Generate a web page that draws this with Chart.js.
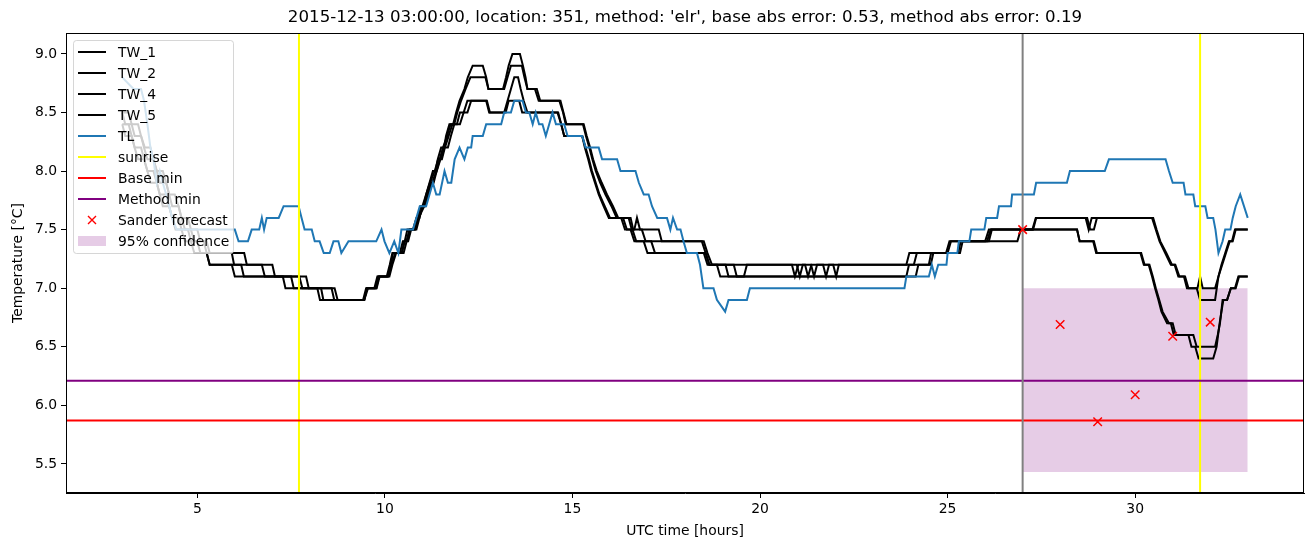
<!DOCTYPE html>
<html>
<head>
<meta charset="utf-8">
<script src="https://cdn.jsdelivr.net/npm/chart.js@4.4.1/dist/chart.umd.min.js"></script>
<style>
  body { margin: 0; background: #fff; }
</style>
</head>
<body>
<canvas id="chart" width="1315" height="547"></canvas>
<script>
// [hour, temperature] vertices
const tw1 = [[3.0,8.5],[3.17,8.5],[3.25,8.4],[3.42,8.4],[3.5,8.3],[3.6,8.2],[3.75,8.2],[3.83,8.1],[3.92,8.0],[4.08,8.0],[4.17,7.9],[4.25,7.8],[4.4,7.8],[4.5,7.7],[4.58,7.6],[4.75,7.6],[4.83,7.5],[5.0,7.5],[5.08,7.4],[5.25,7.4],[5.33,7.3],[6.25,7.3],[6.32,7.2],[7.0,7.2],[7.07,7.1],[7.9,7.1],[7.97,7.0],[8.66,7.0],[8.74,6.9],[9.45,6.9],[9.52,7.0],[9.75,7.0],[9.82,7.1],[10.05,7.1],[10.13,7.2],[10.2,7.3],[10.4,7.3],[10.48,7.4],[10.58,7.4],[10.66,7.5],[10.8,7.5],[10.88,7.6],[10.95,7.7],[11.03,7.7],[11.1,7.8],[11.19,7.9],[11.28,8.0],[11.35,8.0],[11.41,8.1],[11.5,8.2],[11.58,8.2],[11.63,8.3],[11.72,8.4],[11.82,8.4],[11.9,8.5],[11.99,8.6],[12.12,8.7],[12.21,8.8],[12.34,8.9],[12.61,8.9],[12.7,8.8],[12.76,8.7],[13.15,8.7],[13.23,8.8],[13.3,8.9],[13.4,9.0],[13.6,9.0],[13.68,8.9],[13.75,8.8],[13.8,8.7],[14.0,8.7],[14.1,8.6],[14.65,8.6],[14.75,8.5],[14.82,8.4],[15.3,8.4],[15.38,8.3],[15.47,8.2],[15.55,8.1],[15.65,8.0],[15.78,7.9],[15.92,7.8],[16.08,7.7],[16.22,7.6],[16.5,7.6],[16.58,7.5],[16.65,7.5],[16.72,7.6],[16.8,7.5],[17.3,7.5],[17.38,7.4],[18.45,7.4],[18.55,7.3],[18.65,7.2],[20.98,7.2],[21.06,7.1],[21.14,7.2],[21.36,7.2],[21.44,7.1],[21.52,7.2],[23.9,7.2],[23.98,7.3],[24.96,7.3],[25.05,7.4],[26.0,7.4],[26.1,7.5],[27.26,7.5],[27.35,7.6],[28.68,7.6],[28.76,7.5],[28.84,7.6],[30.45,7.6],[30.55,7.5],[30.65,7.4],[30.8,7.3],[30.95,7.2],[31.05,7.2],[31.15,7.1],[31.3,7.1],[31.38,7.0],[31.64,7.0],[31.73,6.9],[32.13,6.9],[32.22,7.1],[32.3,7.2],[32.4,7.3],[32.5,7.4],[32.58,7.4],[32.66,7.5],[33.0,7.5]];

const tw2 = [[3.0,8.5],[3.08,8.4],[3.25,8.4],[3.33,8.3],[3.5,8.3],[3.58,8.2],[3.67,8.1],[3.83,8.1],[3.92,8.0],[4.0,7.9],[4.17,7.9],[4.25,7.8],[4.33,7.7],[4.5,7.7],[4.58,7.6],[4.67,7.5],[4.83,7.5],[4.92,7.4],[5.17,7.4],[5.25,7.3],[5.92,7.3],[5.98,7.2],[6.72,7.2],[6.8,7.1],[7.72,7.1],[7.8,7.0],[8.58,7.0],[8.65,6.9],[9.45,6.9],[9.52,7.0],[9.77,7.0],[9.84,7.1],[10.08,7.1],[10.15,7.2],[10.22,7.3],[10.45,7.3],[10.52,7.4],[10.62,7.4],[10.7,7.5],[10.84,7.5],[10.92,7.6],[11.0,7.7],[11.08,7.7],[11.15,7.8],[11.22,7.9],[11.3,7.9],[11.38,8.0],[11.46,8.1],[11.55,8.2],[11.66,8.3],[11.75,8.4],[11.85,8.4],[11.93,8.5],[12.03,8.6],[12.15,8.7],[12.28,8.8],[12.68,8.8],[12.76,8.7],[13.18,8.7],[13.27,8.8],[13.36,8.9],[13.65,8.9],[13.72,8.8],[13.8,8.7],[14.05,8.7],[14.14,8.6],[14.68,8.6],[14.76,8.5],[14.84,8.4],[15.28,8.4],[15.36,8.3],[15.45,8.2],[15.53,8.1],[15.62,8.0],[15.74,7.9],[15.88,7.8],[16.04,7.7],[16.18,7.6],[16.55,7.6],[16.62,7.5],[16.85,7.5],[16.95,7.4],[18.5,7.4],[18.6,7.3],[18.72,7.2],[19.3,7.2],[19.38,7.1],[19.57,7.1],[19.65,7.2],[20.85,7.2],[20.93,7.1],[21.02,7.2],[21.2,7.2],[21.28,7.1],[21.37,7.2],[21.68,7.2],[21.76,7.1],[21.84,7.2],[21.95,7.2],[22.03,7.1],[22.1,7.2],[24.1,7.2],[24.18,7.3],[25.0,7.3],[25.09,7.4],[26.05,7.4],[26.15,7.5],[27.28,7.5],[27.36,7.6],[28.72,7.6],[28.8,7.5],[28.9,7.5],[28.98,7.6],[30.48,7.6],[30.57,7.5],[30.67,7.4],[30.83,7.3],[30.98,7.2],[31.07,7.2],[31.18,7.1],[31.33,7.1],[31.42,7.0],[31.66,7.0],[31.73,7.1],[31.8,7.0],[32.13,7.0],[32.22,7.1],[32.32,7.2],[32.42,7.3],[32.52,7.4],[32.6,7.4],[32.68,7.5],[33.0,7.5]];

const tw4 = [[3.0,8.4],[3.17,8.4],[3.25,8.3],[3.33,8.2],[3.5,8.2],[3.58,8.1],[3.67,8.0],[3.83,8.0],[3.92,7.9],[4.0,7.8],[4.17,7.8],[4.25,7.7],[4.33,7.6],[4.5,7.6],[4.58,7.5],[4.75,7.5],[4.83,7.4],[5.0,7.4],[5.08,7.3],[5.25,7.3],[5.33,7.2],[6.17,7.2],[6.24,7.1],[7.5,7.1],[7.57,7.0],[8.3,7.0],[8.36,6.9],[9.42,6.9],[9.5,7.0],[9.72,7.0],[9.8,7.1],[10.08,7.1],[10.17,7.2],[10.28,7.3],[10.45,7.3],[10.53,7.4],[10.6,7.5],[10.75,7.5],[10.84,7.6],[10.92,7.6],[11.0,7.7],[11.1,7.8],[11.2,7.9],[11.33,8.0],[11.42,8.1],[11.52,8.1],[11.6,8.2],[11.7,8.3],[11.8,8.4],[11.92,8.4],[12.0,8.5],[12.1,8.5],[12.2,8.6],[12.7,8.6],[12.78,8.5],[13.18,8.5],[13.27,8.6],[13.36,8.7],[13.45,8.8],[13.55,8.8],[13.62,8.7],[13.7,8.6],[13.8,8.5],[14.6,8.5],[14.7,8.4],[14.78,8.3],[15.26,8.3],[15.35,8.2],[15.44,8.1],[15.52,8.0],[15.62,7.9],[15.72,7.8],[15.86,7.7],[16.0,7.6],[16.35,7.6],[16.45,7.5],[16.6,7.5],[16.7,7.4],[17.1,7.4],[17.2,7.3],[18.5,7.3],[18.6,7.2],[18.85,7.2],[18.94,7.1],[23.9,7.1],[23.97,7.2],[24.5,7.2],[24.56,7.3],[25.28,7.3],[25.35,7.4],[26.1,7.4],[26.18,7.5],[28.45,7.5],[28.52,7.4],[28.9,7.4],[28.98,7.3],[30.14,7.3],[30.23,7.2],[30.36,7.2],[30.45,7.1],[30.53,7.0],[30.62,6.9],[30.7,6.8],[30.85,6.7],[30.95,6.7],[31.03,6.6],[31.55,6.6],[31.64,6.5],[32.13,6.5],[32.2,6.6],[32.26,6.7],[32.33,6.9],[32.45,6.9],[32.55,7.0],[32.66,7.0],[32.75,7.1],[33.0,7.1]];

const tw5 = [[3.0,8.4],[3.08,8.3],[3.25,8.3],[3.33,8.2],[3.42,8.1],[3.58,8.1],[3.67,8.0],[3.75,7.9],[3.92,7.9],[4.0,7.8],[4.08,7.7],[4.25,7.7],[4.33,7.6],[4.42,7.5],[4.58,7.5],[4.67,7.4],[4.83,7.4],[4.92,7.3],[5.25,7.3],[5.33,7.2],[5.92,7.2],[6.0,7.1],[7.28,7.1],[7.35,7.0],[8.2,7.0],[8.27,6.9],[9.45,6.9],[9.55,7.0],[9.78,7.0],[9.86,7.1],[10.12,7.1],[10.2,7.2],[10.3,7.3],[10.5,7.3],[10.58,7.4],[10.66,7.5],[10.8,7.5],[10.9,7.6],[11.05,7.7],[11.15,7.8],[11.25,7.9],[11.38,8.0],[11.48,8.1],[11.58,8.2],[11.68,8.2],[11.76,8.3],[11.85,8.4],[12.0,8.4],[12.1,8.5],[12.2,8.5],[12.3,8.6],[12.72,8.6],[12.8,8.5],[13.22,8.5],[13.3,8.6],[13.58,8.6],[13.66,8.5],[14.62,8.5],[14.7,8.4],[14.78,8.3],[15.26,8.3],[15.33,8.2],[15.42,8.1],[15.5,8.0],[15.6,7.9],[15.7,7.8],[15.83,7.7],[15.97,7.6],[16.3,7.6],[16.4,7.5],[16.55,7.5],[16.65,7.4],[16.9,7.4],[17.0,7.3],[18.55,7.3],[18.65,7.2],[19.08,7.2],[19.16,7.1],[24.15,7.1],[24.22,7.2],[24.55,7.2],[24.62,7.3],[25.33,7.3],[25.4,7.4],[26.86,7.4],[26.95,7.5],[28.45,7.5],[28.52,7.4],[28.88,7.4],[28.96,7.3],[30.16,7.3],[30.25,7.2],[30.38,7.2],[30.47,7.1],[30.55,7.0],[30.64,6.9],[30.73,6.8],[30.9,6.7],[31.0,6.7],[31.08,6.6],[31.42,6.6],[31.5,6.5],[31.6,6.5],[31.69,6.4],[32.08,6.4],[32.17,6.5],[32.25,6.7],[32.35,6.9],[32.45,6.9],[32.55,7.0],[32.68,7.0],[32.77,7.1],[33.0,7.1]];

const tl = [[3.0,8.8],[3.3,8.7],[3.5,8.7],[3.58,8.6],[3.67,8.4],[3.75,8.2],[3.83,8.1],[3.92,7.9],[4.0,8.0],[4.08,7.9],[4.17,7.8],[4.25,7.7],[4.33,7.6],[4.45,7.5],[6.0,7.5],[6.1,7.4],[6.35,7.4],[6.45,7.5],[6.65,7.5],[6.72,7.6],[6.78,7.5],[6.85,7.6],[7.17,7.6],[7.3,7.7],[7.7,7.7],[7.78,7.6],[7.86,7.5],[8.05,7.5],[8.13,7.4],[8.26,7.4],[8.37,7.3],[8.53,7.3],[8.63,7.4],[8.76,7.4],[8.84,7.3],[9.03,7.4],[9.77,7.4],[9.91,7.5],[9.99,7.4],[10.12,7.3],[10.25,7.4],[10.36,7.3],[10.44,7.5],[10.75,7.5],[10.93,7.7],[11.1,7.7],[11.28,7.9],[11.37,7.8],[11.46,7.8],[11.59,8.0],[11.68,7.9],[11.77,7.9],[11.86,8.1],[11.99,8.2],[12.12,8.1],[12.21,8.2],[12.3,8.2],[12.34,8.3],[12.61,8.3],[12.7,8.4],[13.1,8.4],[13.18,8.5],[13.36,8.5],[13.45,8.6],[13.67,8.6],[13.76,8.5],[13.85,8.5],[13.94,8.4],[14.02,8.5],[14.11,8.4],[14.2,8.4],[14.29,8.3],[14.38,8.4],[14.47,8.5],[14.56,8.4],[14.78,8.4],[14.87,8.3],[15.26,8.3],[15.35,8.2],[15.7,8.2],[15.79,8.1],[16.19,8.1],[16.28,8.0],[16.68,8.0],[16.77,7.9],[16.9,7.8],[17.03,7.8],[17.12,7.7],[17.26,7.6],[17.52,7.6],[17.61,7.5],[17.68,7.6],[17.79,7.5],[17.88,7.5],[17.96,7.4],[18.05,7.3],[18.32,7.3],[18.4,7.2],[18.49,7.0],[18.76,7.0],[18.85,6.9],[19.07,6.8],[19.16,6.9],[19.65,6.9],[19.73,7.0],[23.85,7.0],[23.9,7.1],[24.5,7.1],[24.58,7.2],[24.66,7.1],[24.75,7.2],[24.97,7.2],[25.0,7.3],[25.26,7.3],[25.3,7.4],[25.58,7.4],[25.63,7.5],[25.98,7.5],[26.03,7.6],[26.32,7.6],[26.37,7.7],[26.69,7.7],[26.72,7.8],[27.3,7.8],[27.36,7.9],[28.18,7.9],[28.26,8.0],[29.19,8.0],[29.3,8.1],[30.81,8.1],[30.9,8.0],[31.0,7.9],[31.29,7.9],[31.34,7.8],[31.55,7.8],[31.6,7.7],[31.87,7.7],[31.93,7.6],[32.08,7.6],[32.14,7.5],[32.22,7.3],[32.33,7.4],[32.4,7.5],[32.54,7.5],[32.6,7.6],[32.68,7.7],[32.8,7.8],[33.0,7.6]];

const forecastHours = [27, 28, 29, 30, 31, 32];
const forecastTemps = [7.5, 6.69, 5.86, 6.09, 6.59, 6.71];

const sunriseHours = [7.71, 31.73];
const issueHour = 27;
const baseMin = 5.87;
const methodMin = 6.21;

const confFrom = 27;
const confTo = 33;
const confLow = 5.43;
const confHigh = 7.0;

const xTicks = [5, 10, 15, 20, 25, 30];
const yTicks = [5.5, 6.0, 6.5, 7.0, 7.5, 8.0, 8.5, 9.0];

const titleText = "2015-12-13 03:00:00, location: 351, method: 'elr', base abs error: 0.53, method abs error: 0.19";

Chart.defaults.font.family = "'DejaVu Sans', sans-serif";
Chart.defaults.color = '#000';

function lineSet(label, data, color, order) {
    return {
        label: label,
        data: data,
        borderColor: color,
        borderWidth: 2,
        pointRadius: 0,
        fill: false,
        tension: 0,
        order: order
    };
}

// axvline / axhline, drawn right after the TL series
const refLines = {
    id: 'refLines',
    afterDatasetDraw(chart, args) {
        if (chart.data.datasets[args.index].label !== 'TL') return;
        const { ctx, chartArea: a, scales: { x, y } } = chart;
        ctx.save();
        ctx.beginPath();
        ctx.rect(a.left, a.top, a.right - a.left, a.bottom - a.top);
        ctx.clip();
        ctx.lineWidth = 2;
        const vline = (v, c) => {
            const px = x.getPixelForValue(v);
            ctx.strokeStyle = c;
            ctx.beginPath(); ctx.moveTo(px, a.top); ctx.lineTo(px, a.bottom); ctx.stroke();
        };
        const hline = (v, c) => {
            const py = y.getPixelForValue(v);
            ctx.strokeStyle = c;
            ctx.beginPath(); ctx.moveTo(a.left, py); ctx.lineTo(a.right, py); ctx.stroke();
        };
        sunriseHours.forEach(h => vline(h, '#ffff00'));
        hline(baseMin, '#ff0000');
        hline(methodMin, '#800080');
        vline(issueHour, '#808080');
        ctx.restore();
    }
};

// frame + matplotlib style legend
const frameAndLegend = {
    id: 'frameAndLegend',
    afterDraw(chart) {
        const { ctx, chartArea: a } = chart;
        ctx.save();
        ctx.strokeStyle = '#000';
        ctx.lineWidth = 1;
        ctx.strokeRect(Math.round(a.left) + 0.5, Math.round(a.top) + 0.5,
            Math.round(a.right - a.left) - 1, Math.round(a.bottom - a.top) - 1);

        const items = [
            ['TW_1', 'line', '#000'], ['TW_2', 'line', '#000'], ['TW_4', 'line', '#000'],
            ['TW_5', 'line', '#000'], ['TL', 'line', '#1f77b4'], ['sunrise', 'line', '#ffff00'],
            ['Base min', 'line', '#ff0000'], ['Method min', 'line', '#800080'],
            ['Sander forecast', 'cross', '#ff0000'], ['95% confidence', 'patch', 'rgba(128,0,128,0.2)']
        ];
        const bx = a.left + 7, by = a.top + 7, bw = 160, bh = 213;
        ctx.beginPath();
        if (ctx.roundRect) ctx.roundRect(bx + 0.5, by + 0.5, bw, bh, 3); else ctx.rect(bx + 0.5, by + 0.5, bw, bh);
        ctx.fillStyle = 'rgba(255,255,255,0.8)';
        ctx.fill();
        ctx.strokeStyle = 'rgba(204,204,204,0.8)';
        ctx.stroke();

        ctx.font = "13.9px 'DejaVu Sans', sans-serif";
        ctx.textBaseline = 'middle';
        ctx.textAlign = 'left';
        items.forEach((it, i) => {
            const cy = by + 12 + i * 21;
            const x0 = bx + 5, x1 = bx + 33;
            if (it[1] === 'line') {
                ctx.strokeStyle = it[2]; ctx.lineWidth = 2;
                ctx.beginPath(); ctx.moveTo(x0, cy); ctx.lineTo(x1, cy); ctx.stroke();
            } else if (it[1] === 'cross') {
                const cx = (x0 + x1) / 2, r = 4;
                ctx.strokeStyle = it[2]; ctx.lineWidth = 1.4;
                ctx.beginPath();
                ctx.moveTo(cx - r, cy - r); ctx.lineTo(cx + r, cy + r);
                ctx.moveTo(cx - r, cy + r); ctx.lineTo(cx + r, cy - r);
                ctx.stroke();
            } else {
                ctx.fillStyle = it[2];
                ctx.fillRect(x0, cy - 5, x1 - x0, 10);
            }
            ctx.fillStyle = '#000';
            ctx.fillText(it[0], bx + 45, cy + 1);
        });
        ctx.restore();
    }
};

const sander = forecastHours.map((h, i) => ({ x: h, y: forecastTemps[i] }));

new Chart(document.getElementById('chart').getContext('2d'), {
    type: 'line',
    data: {
        datasets: [
            {
                label: '95% confidence',
                data: [{ x: confFrom, y: confHigh }, { x: confTo, y: confHigh }],
                borderWidth: 0,
                pointRadius: 0,
                backgroundColor: 'rgba(128,0,128,0.2)',
                fill: { value: confLow },
                order: 10
            },
            lineSet('TW_1', tw1, '#000', 9),
            lineSet('TW_2', tw2, '#000', 8),
            lineSet('TW_4', tw4, '#000', 7),
            lineSet('TW_5', tw5, '#000', 6),
            lineSet('TL', tl, '#1f77b4', 5),
            {
                label: 'Sander forecast',
                data: sander,
                showLine: false,
                pointStyle: 'crossRot',
                pointRadius: 6,
                borderColor: '#ff0000',
                borderWidth: 1.5,
                order: 1
            }
        ]
    },
    options: {
        responsive: false,
        animation: false,
        devicePixelRatio: 1,
        layout: { padding: { left: 0, right: 11, top: 0, bottom: 0 } },
        plugins: {
            legend: { display: false },
            tooltip: { enabled: false },
            title: {
                display: true,
                text: titleText,
                fullSize: false,
                color: '#000',
                font: { size: 16.67, weight: 'normal' },
                padding: { top: 8, bottom: 5 }
            }
        },
        scales: {
            x: {
                type: 'linear',
                min: 1.5,
                max: 34.5,
                afterBuildTicks: s => { s.ticks = xTicks.map(v => ({ value: v })); },
                afterFit: s => { s.height = 54; },
                ticks: { color: '#000', font: { size: 13.9 }, padding: 3, maxRotation: 0, autoSkip: false,
                         callback: v => String(v) },
                grid: { display: true, drawOnChartArea: false, drawTicks: true, tickLength: 5,
                        color: '#000', tickColor: '#000' },
                border: { display: true, color: '#000' },
                title: { display: true, text: 'UTC time [hours]', color: '#000', font: { size: 13.9 },
                         padding: { top: 0, bottom: 7 } }
            },
            y: {
                type: 'linear',
                min: 5.2515,
                max: 9.1785,
                afterBuildTicks: s => { s.ticks = yTicks.map(v => ({ value: v })); },
                afterFit: s => { s.width = 66; },
                ticks: { color: '#000', font: { size: 13.9 }, padding: 4, autoSkip: false,
                         callback: v => Number(v).toFixed(1) },
                grid: { display: true, drawOnChartArea: false, drawTicks: true, tickLength: 5,
                        color: '#000', tickColor: '#000' },
                border: { display: true, color: '#000' },
                title: { display: true, text: 'Temperature [°C]', color: '#000', font: { size: 13.9 },
                         padding: { top: 10, bottom: 0 } }
            }
        }
    },
    plugins: [refLines, frameAndLegend]
});
</script>
</body>
</html>
